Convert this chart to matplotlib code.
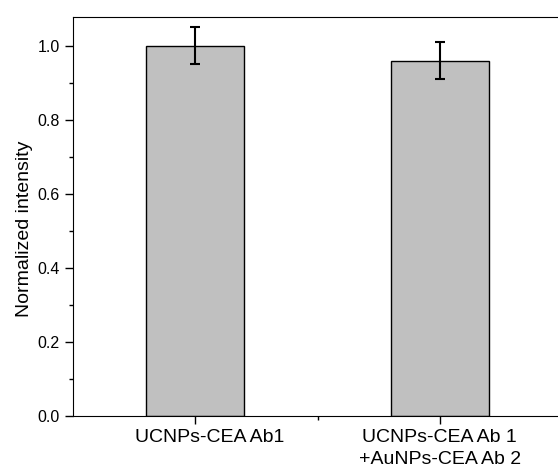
import matplotlib.pyplot as plt
import matplotlib.transforms as mtransforms
import numpy as np

plt.rcParams['font.family'] = ['Liberation Sans', 'DejaVu Sans']

samples = ['UCNPs-CEA Ab1', 'UCNPs-CEA Ab 1\n+AuNPs-CEA Ab 2']
intensity = [1.0, 0.96]
error = [0.05, 0.05]

fig = plt.figure(figsize=(5.58, 4.76), dpi=100)
ax = fig.add_axes([0.131, 0.126, 0.876, 0.838])

x = np.arange(1, len(samples) + 1)
ax.bar(x, intensity, width=0.4, color='#c0c0c0', edgecolor='black', linewidth=1)
ax.errorbar(x, intensity, yerr=error, fmt='none', ecolor='black', elinewidth=1.5,
            capsize=3.5, capthick=1.5)

ax.set_xlim(0.5, 2.5)
ax.set_ylim(0, 1.078)
ax.set_xticks(x)
ax.set_xticklabels(samples, fontsize=14, linespacing=1.45)
ax.set_xticks([1.5], minor=True)
ax.set_yticks(np.arange(0, 1.01, 0.2))
ax.set_yticklabels(['%.1f' % v for v in np.arange(0, 1.01, 0.2)], fontsize=11.5)
ax.set_yticks(np.arange(0.1, 1.01, 0.2), minor=True)
ax.tick_params(which='major', direction='out', length=6, width=1)
ax.tick_params(which='minor', direction='out', length=3, width=1)
ax.tick_params(axis='x', which='major', pad=3)
ax.set_ylabel('Normalized intensity', fontsize=14)
ax.yaxis.set_label_coords(-0.082, 0.47)
ax.spines['right'].set_visible(False)

# first label sits a bit right of its tick in the original
lab = ax.get_xticklabels()[0]
lab.set_transform(lab.get_transform() + mtransforms.ScaledTranslation(10 / 72, 0, fig.dpi_scale_trans))

fig.savefig('out.png', dpi=100)
